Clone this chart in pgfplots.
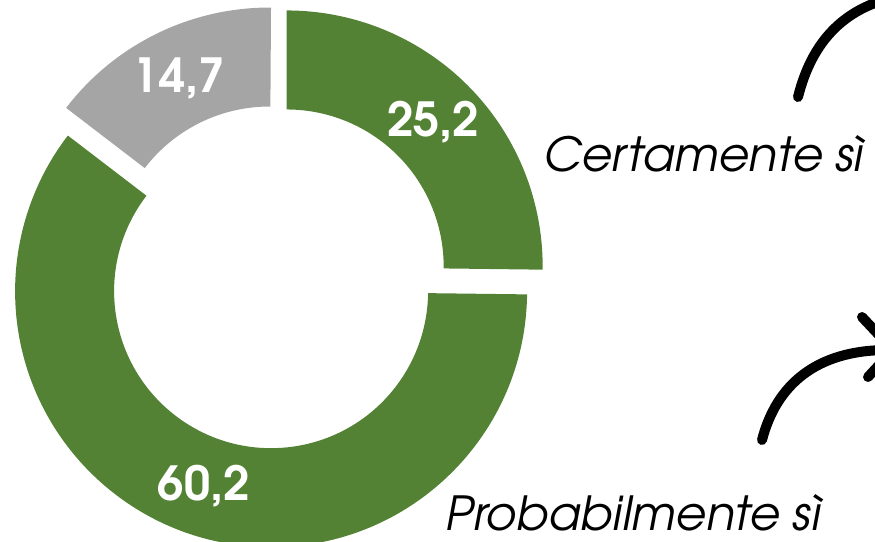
\documentclass[border=0pt]{standalone}
\usepackage{fontspec}
\setmainfont{TeX Gyre Adventor}
\usepackage{pgfplots}
\usepackage{pgfplotstable}
\pgfplotsset{compat=1.18}
\definecolor{cgreen}{RGB}{84,130,53}
\definecolor{cgrey}{RGB}{165,165,165}
\newcommand\labelfont{\fontsize{47}{47}\selectfont\bfseries}
\newcommand\catfont{\fontsize{47}{47}\selectfont\itshape}

\pgfplotstableread[col sep=semicolon]{
value;color;label
25.2;cgreen;25,2
60.2;cgreen;60,2
14.7;cgrey;14,7
}\donutdata

\begin{document}
\begin{tikzpicture}
\path[use as bounding box] (0,0) rectangle (875pt,541pt);
\clip (0,0) rectangle (875pt,541pt);
\begin{axis}[
  at={(0pt,0pt)}, anchor=south west,
  x=1pt, y=1pt, xmin=0, xmax=875, ymin=0, ymax=541,
  hide axis, clip=false, scale only axis,
]
\gdef\cum{0}
\pgfplotsinvokeforeach{0,1,2}{
  \pgfplotstablegetelem{#1}{value}\of\donutdata \let\val\pgfplotsretval
  \pgfplotstablegetelem{#1}{color}\of\donutdata \let\col\pgfplotsretval
  \pgfplotstablegetelem{#1}{label}\of\donutdata \let\lab\pgfplotsretval
  \pgfmathsetmacro\sa{90-3.6*\cum}
  \pgfmathsetmacro\ea{90-3.6*(\cum+\val)}
  \pgfmathsetmacro\ma{(\sa+\ea)/2}
  \edef\doit{%
    \noexpand\fill[\col] (axis cs:276,264) ++(\ma:15pt) ++(\sa:256pt)
      arc[start angle=\sa, end angle=\ea, radius=256pt]
      -- ++(\ea:-99pt)
      arc[start angle=\ea, end angle=\sa, radius=157pt] -- cycle;
    \noexpand\path (axis cs:276,264) ++(\ma:221pt)
      node[text=white, font=\noexpand\labelfont, inner sep=0pt] {\lab};
  }
  \doit
  \pgfmathsetmacro\newcum{\cum+\val}
  \global\let\cum\newcum
}
% category labels
\node[anchor=base west, inner sep=0pt, font=\catfont] at (axis cs:543,369) {Certamente s\`{\i}};
\node[anchor=base west, inner sep=0pt, font=\catfont] at (axis cs:445,11) {Probabilmente s\`{\i}};
% decorative arrows
\draw[line width=10pt, line cap=round, line join=round]
  (axis cs:798,444) .. controls (axis cs:812,500) and (axis cs:845,536) .. (axis cs:905,546);
\draw[line width=10pt, line cap=round, line join=round]
  (axis cs:762,101) .. controls (axis cs:776,155) and (axis cs:815,191) .. (axis cs:888,191);
\draw[line width=10pt, line cap=round, line join=round]
  (axis cs:862,224) -- (axis cs:893,191) -- (axis cs:868,164);
\end{axis}
\end{tikzpicture}
\end{document}
